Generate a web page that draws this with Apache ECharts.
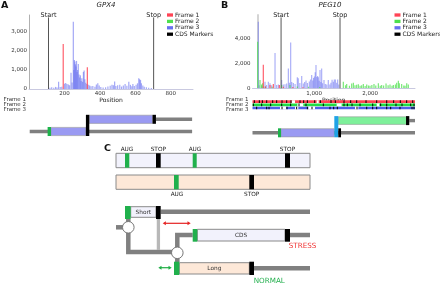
<!DOCTYPE html>
<html><head><meta charset="utf-8">
<script src="https://cdn.jsdelivr.net/npm/echarts@6/dist/echarts.min.js"></script>
<style>html,body{margin:0;padding:0;background:#fff}#c{width:440px;height:286px}</style>
</head><body><div id="c"></div>
<script>
// ---------- Panel A (GPX4) data ----------
const aFrame1 = [[193,2370],[329,1140]];
const aFrame2 = [];
const aFrame3 = [[118,60],[128,90],[140,70],[150,110],[158,80],[167,385],[176,100],[185,120],[200,280],[207,320],[214,260],[222,240],[229,200],[237,860],[243,340],[250,3540],[253,1000],[256,1530],[259,1450],[262,1300],[265,1180],[268,1480],[271,900],[274,1000],[278,1320],[282,760],[286,600],[290,720],[294,420],[298,560],[302,380],[307,900],[311,970],[315,520],[320,330],[326,260],[334,230],[342,180],[350,140],[360,160],[372,120],[380,240],[388,300],[396,180],[405,110],[418,80],[432,90],[445,130],[458,170],[468,230],[476,200],[483,390],[490,160],[500,200],[512,230],[522,130],[532,180],[542,260],[552,170],[563,380],[572,220],[580,140],[586,260],[594,160],[604,220],[612,300],[619,560],[624,520],[629,470],[634,300],[642,180],[650,120],[662,90],[675,70],[690,50]];
const aCds = [[110,'Start'],[703,'Stop']];
const aXTicks = [200,400,600,800];
const aXRange = [0,925];
const aYMax = 3900;
const aGene = [[4,920,'low','utr'],[716,920,'up','utr'],[124,321,'low','orf3'],[340,697,'up','orf3'],[105,124,'low','start'],[321,340,'both','stop'],[697,716,'up','stop']];

// ---------- Panel B (PEG10) data ----------
const bFrame1 = [[93,1900],[130,150],[212,270],[272,350],[379,270],[450,120],[620,100],[800,90]];
const bFrame2 = [[-8,3740],[34,670],[60,300],[81,400],[130,150],[250,120],[420,270],[569,270],[700,150],[900,120],[1100,100],[1521,520],[1560,250],[1581,350],[1630,200],[1670,380],[1700,450],[1729,250],[1759,280],[1789,330],[1820,200],[1848,250],[1878,350],[1910,180],[1938,300],[1970,220],[1997,200],[2030,260],[2068,350],[2100,220],[2146,400],[2180,200],[2205,260],[2240,220],[2283,380],[2320,250],[2354,300],[2390,200],[2414,260],[2450,300],[2473,450],[2503,610],[2520,400],[2562,350],[2600,220],[2622,200],[2652,400],[2681,300]];
const bFrame3 = [[4,5350],[20,250],[64,200],[95,150],[123,520],[150,260],[183,530],[212,400],[242,250],[302,2850],[330,260],[361,300],[420,660],[450,300],[480,320],[510,380],[540,1600],[560,450],[581,3690],[600,500],[629,420],[660,350],[700,880],[717,800],[745,420],[778,1000],[807,380],[830,500],[855,620],[880,420],[914,540],[935,700],[956,1070],[975,620],[990,820],[1004,940],[1020,1300],[1033,1870],[1048,900],[1062,1000],[1075,880],[1090,600],[1105,1470],[1120,500],[1134,1600],[1150,400],[1176,670],[1200,350],[1225,300],[1253,670],[1280,300],[1300,450],[1320,680],[1343,530],[1360,700],[1380,700],[1402,450],[1420,700],[1440,300]];
const bCds = [[410,'Start'],[1462,'Stop']];
const bXTicks = [1000,2000];
const bXRange = [-100,2800];
const bYMax = 5900;
const bGene = [[-100,2800,'low','utr'],[2698,2800,'up','utr'],[409,1360,'low','orf3'],[1431,2652,'up','orf2'],[355,409,'low','start'],[1360,1431,'both','shift'],[1431,1480,'low','stop'],[2640,2698,'up','stop']];
const bStops = [
  [-67,22,76,153,260,331,427,510,587,748,813,879,1010,1111,1301,1378,1533,1652,1759,1926,2116,2295,2419,2538,2651,2759],
  [-85,64,224,421,581,730,855,1164,1533,1592,1676,1819,2045,2187,2295,2461,2568,2723,2782],
  [-26,153,195,427,516,688,879,962,1283,1349,1414,1765,1938,2045,2116,2295,2366,2532,2747,2782]
];
const bGaps = [
  [[599,659],[1045,1081]],
  [[700,807],[1402,1491],[2116,2164]],
  [[391,498],[659,718],[897,1015],[1729,1789]]
];
const frameNames = ['Frame 1','Frame 2','Frame 3'];
const legendNames = ['Frame 1','Frame 2','Frame 3','CDS Markers'];

// ---------- Panel C schematic (diagram units) ----------
const cBars = [[16,13.3,210,27.7,'mrna1'],[25,13.3,29.3,27.7,'aug'],[56,13.3,60.7,27.7,'stop'],[92.7,13.3,96.7,27.7,'aug'],[185,13.3,190,27.7,'stop'],
  [16,35,210,49.3,'mrna2'],[74,35,78.7,49.3,'aug'],[149.3,35,154,49.3,'stop'],
  [30.7,66.7,56,77.3,'mrna1'],[25,66,30.7,79,'aug'],[56,66,60.7,79,'stop'],
  [97.3,89.3,185,101,'mrna1'],[92.7,89,97.3,101.7,'aug'],[185,89,190,101.7,'stop'],
  [79.3,122.7,149.3,134,'mrna2'],[74,121.7,79.3,135,'aug'],[149.3,121.7,154,135,'stop']];
const cPaths = [
  [[[60.7,71.7],[210,71.7]],'main'],
  [[[16,87.3],[28.3,87.3]],'main'],
  [[[28.3,79],[28.3,112],[77.3,112]],'main'],
  [[[77.3,112],[77.3,95],[92.7,95]],'main'],
  [[[77.3,112],[77.3,122]],'main'],
  [[[190,95],[210,95]],'main'],
  [[[154,128.3],[210,128.3]],'main'],
  [[[58.4,79],[58.4,110]],'light']];
const cCircles = [[28.3,87.3],[77.3,112.8]];
const cArrows = [[62.7,90.7,83.3,'stress'],[58.3,71.7,127.7,'normal']];
const cTexts = [[27,9,'AUG','small'],[58.3,9,'STOP','small'],[95,9,'AUG','small'],[187.5,9,'STOP','small'],
  [77,54,'AUG','small'],[151.7,54,'STOP','small'],[43.3,72,'Short','box'],[141,95.2,'CDS','box'],[114.3,128.4,'Long','box'],
  [202.5,106,'STRESS','stress'],[169.3,141.5,'NORMAL','normal']];

// ---------- rendering ----------
const FONT = 'DejaVu Sans';
const GREY = '#808080';
const C1 = '#ff4455', C2 = '#4ee04e', C3 = '#6870f0';

function barSeries(name, idx, data, color, op) {
  return {type:'custom', name, xAxisIndex:idx, yAxisIndex:idx, data, clip:true, itemStyle:{color},
    renderItem:(p, api) => {
      const x = api.value(0), v = api.value(1);
      const a = api.coord([x,0]), b = api.coord([x,v]);
      return {type:'rect', shape:{x:a[0]-0.6, y:b[1], width:1.2, height:a[1]-b[1]}, style:{fill:color, opacity:op}};
    }};
}
function cdsSeries(idx, data, ymax) {
  return {type:'custom', name:'CDS Markers', xAxisIndex:idx, yAxisIndex:idx, clip:false, itemStyle:{color:'#000'},
    data: data.map(d => [d[0], ymax]),
    renderItem:(p, api) => {
      const x = api.value(0);
      const a = api.coord([x,0]), b = api.coord([x, api.value(1)]);
      return {type:'group', children:[
        {type:'line', shape:{x1:a[0], y1:a[1], x2:b[0], y2:b[1]+2.4}, style:{stroke:'#555', lineWidth:1}},
        {type:'text', style:{x:b[0], y:b[1]+3.6, text:data[p.dataIndex][1], align:'center', verticalAlign:'bottom', fontSize:6.5, fontFamily:FONT, fill:'#222'}}
      ]};
    }};
}
function geneSeries(idx, data, lanes) {
  const sty = {utr:{fill:GREY, h:3.4}, orf3:{fill:'#9a9af2', h:8.2, stroke:'#999'}, orf2:{fill:'#7ef09a', h:7.6, stroke:'#999'},
    start:{fill:'#1cb34a', h:9}, stop:{fill:'#000', h:9}, shift:{fill:'#1fa3e6', h:9}};
  return {type:'custom', xAxisIndex:idx, yAxisIndex:idx, data: data.map(d => [d[0], d[1]]), clip:false,
    renderItem:(p, api) => {
      const d = data[p.dataIndex], s = sty[d[3]];
      let y1, y2;
      if (d[2] === 'both') { y1 = lanes.up - s.h/2; y2 = lanes.low + s.h/2; }
      else { y1 = lanes[d[2]] - s.h/2; y2 = lanes[d[2]] + s.h/2; }
      const a = api.coord([d[0], y1]), b = api.coord([d[1], y2]);
      return {type:'rect', shape:{x:a[0], y:a[1], width:b[0]-a[0], height:b[1]-a[1]},
        style:{fill:s.fill, stroke:s.stroke || null, lineWidth:s.stroke ? 0.6 : 0}};
    }};
}
function trackSeries(idx) {
  const cols = [C1, '#22dd44', '#5060e8'];
  const rows = [];
  for (let f = 0; f < 3; f++) {
    rows.push([bXRange[0], bXRange[1], f, 'base']);
    bGaps[f].forEach(g => rows.push([g[0], g[1], f, 'gap']));
    bStops[f].forEach(s => rows.push([s, s, f, 'stop']));
  }
  const laneC = [4.65, 7.85, 11.0], h = 2.7;
  return {type:'custom', xAxisIndex:idx, yAxisIndex:idx, data: rows.map(r => [r[0], r[1]]), clip:false,
    renderItem:(p, api) => {
      const r = rows[p.dataIndex];
      const a = api.coord([r[0], laneC[r[2]] - h/2]), b = api.coord([r[1], laneC[r[2]] + h/2]);
      if (r[3] === 'stop') return {type:'rect', shape:{x:a[0]-0.5, y:a[1], width:1, height:b[1]-a[1]}, style:{fill:'#000'}};
      return {type:'rect', shape:{x:a[0], y:a[1], width:b[0]-a[0], height:b[1]-a[1]}, style:{fill: r[3]==='gap' ? '#fff' : cols[r[2]]}};
    }};
}
// Panel C series
const cFill = {mrna1:'#f2f2fc', mrna2:'#fde8d8', aug:'#20b04c', stop:'#000'};
const cPathStyle = {main:{stroke:'#808080', lineWidth:4.5}, light:{stroke:'#b8b8b8', lineWidth:3.3}};
const cTextStyle = {small:{fontSize:5.8, fill:'#222'}, box:{fontSize:5.8, fill:'#333'}, stress:{fontSize:7.2, fill:'#f03434'}, normal:{fontSize:7.2, fill:'#26b050'}};
const cArrowCol = {stress:'#e52222', normal:'#1fae45'};
const C = 6;
const cSeries = [
  {type:'custom', xAxisIndex:C, yAxisIndex:C, clip:false, z:2, data: cPaths.map(p => p[0][0]),
    renderItem:(p, api) => {
      const path = cPaths[p.dataIndex];
      return {type:'polyline', shape:{points: path[0].map(pt => api.coord(pt))}, style:Object.assign({fill:null, lineJoin:'miter'}, cPathStyle[path[1]])};
    }},
  {type:'custom', xAxisIndex:C, yAxisIndex:C, clip:false, z:3, data: cBars.map(b => [b[0], b[1]]),
    renderItem:(p, api) => {
      const b = cBars[p.dataIndex];
      const a = api.coord([b[0], b[1]]), c = api.coord([b[2], b[3]]);
      const isBox = b[4].startsWith('mrna');
      return {type:'rect', shape:{x:a[0], y:a[1], width:c[0]-a[0], height:c[1]-a[1]},
        style:{fill:cFill[b[4]], stroke: isBox ? '#8a8a8a' : null, lineWidth: isBox ? 1 : 0}};
    }},
  {type:'custom', xAxisIndex:C, yAxisIndex:C, clip:false, z:4, data: cCircles,
    renderItem:(p, api) => {
      const c = cCircles[p.dataIndex];
      const a = api.coord(c), e = api.coord([c[0]+5.8, c[1]]);
      return {type:'circle', shape:{cx:a[0], cy:a[1], r:e[0]-a[0]}, style:{fill:'#fff', stroke:'#777', lineWidth:1}};
    }},
  {type:'custom', xAxisIndex:C, yAxisIndex:C, clip:false, z:4, data: cArrows.map(a => [a[0], a[2]]),
    renderItem:(p, api) => {
      const ar = cArrows[p.dataIndex], col = cArrowCol[ar[3]];
      const a = api.coord([ar[0], ar[2]]), b = api.coord([ar[1], ar[2]]);
      const hl = 3.2, hw = 2;
      return {type:'group', children:[
        {type:'line', shape:{x1:a[0]+hl-0.5, y1:a[1], x2:b[0]-hl+0.5, y2:b[1]}, style:{stroke:col, lineWidth:1.2}},
        {type:'polygon', shape:{points:[[a[0],a[1]],[a[0]+hl,a[1]-hw],[a[0]+hl,a[1]+hw]]}, style:{fill:col}},
        {type:'polygon', shape:{points:[[b[0],b[1]],[b[0]-hl,b[1]-hw],[b[0]-hl,b[1]+hw]]}, style:{fill:col}}
      ]};
    }},
  {type:'custom', xAxisIndex:C, yAxisIndex:C, clip:false, z:5, data: cTexts.map(t => [t[0], t[1]]),
    renderItem:(p, api) => {
      const t = cTexts[p.dataIndex];
      const a = api.coord([t[0], t[1]]);
      return {type:'text', style:Object.assign({x:a[0], y:a[1], text:t[2], align:'center', verticalAlign:'middle', fontFamily:FONT}, cTextStyle[t[3]])};
    }}
];

const hiddenVal = (gi, range) => Object.assign({type:'value', gridIndex:gi, show:false}, range ? {min:range[0], max:range[1]} : {});
const tickLabel = {fontSize:5.5, color:'#333', fontFamily:FONT, margin:2};

const chart = echarts.init(document.getElementById('c'), null, {renderer:'canvas'});
chart.setOption({
  animation:false,
  backgroundColor:'#fff',
  textStyle:{fontFamily:FONT},
  title:[
    {text:'A', left:1, top:1, padding:0, textStyle:{fontSize:9.5, fontWeight:'bold', color:'#111', fontFamily:FONT}},
    {text:'GPX4', left:106, top:2, padding:0, textAlign:'center', textStyle:{fontSize:7, fontStyle:'italic', fontWeight:'normal', color:'#222', fontFamily:FONT}},
    {text:'B', left:221, top:1, padding:0, textStyle:{fontSize:9.5, fontWeight:'bold', color:'#111', fontFamily:FONT}},
    {text:'PEG10', left:330, top:2, padding:0, textAlign:'center', textStyle:{fontSize:7, fontStyle:'italic', fontWeight:'normal', color:'#222', fontFamily:FONT}},
    {text:'C', left:104, top:144, padding:0, textStyle:{fontSize:9.5, fontWeight:'bold', color:'#111', fontFamily:FONT}}
  ],
  legend:[
    {data:legendNames, orient:'vertical', left:167, top:12, padding:0, itemGap:0.4, itemWidth:6, itemHeight:3.3, icon:'rect',
     selectedMode:false, textStyle:{fontSize:6, lineHeight:6, color:'#222', fontFamily:FONT, padding:[0,0,0,-3]}},
    {data:legendNames, orient:'vertical', left:394.5, top:12, padding:0, itemGap:0.4, itemWidth:6, itemHeight:3.3, icon:'rect',
     selectedMode:false, textStyle:{fontSize:6, lineHeight:6, color:'#222', fontFamily:FONT, padding:[0,0,0,-3]}}
  ],
  grid:[
    {left:29, top:15, width:164, height:74, outerBoundsMode:'none'},
    {left:252.5, top:15, width:162.5, height:73.3, outerBoundsMode:'none'},
    {left:29, top:97.6, width:164, height:14.4, outerBoundsMode:'none'},
    {left:252.5, top:97.6, width:162.5, height:14.4, outerBoundsMode:'none'},
    {left:29, top:97, width:164, height:43, outerBoundsMode:'none'},
    {left:252.5, top:97, width:162.5, height:43, outerBoundsMode:'none'},
    {left:100, top:140, width:240, height:146, outerBoundsMode:'none'}
  ],
  xAxis:[
    {type:'value', gridIndex:0, min:aXRange[0], max:aXRange[1], splitLine:{show:false}, axisTick:{show:false},
     axisLine:{show:true, lineStyle:{color:'#c9c9e0', width:1}},
     axisLabel:Object.assign({customValues:aXTicks}, tickLabel),
     name:'Position', nameLocation:'middle', nameGap:5, nameTextStyle:{fontSize:6, color:'#222', fontFamily:FONT, verticalAlign:'top'}},
    {type:'value', gridIndex:1, min:bXRange[0], max:bXRange[1], splitLine:{show:false}, axisTick:{show:false},
     axisLine:{show:true, lineStyle:{color:'#c9c9e0', width:1}},
     axisLabel:Object.assign({customValues:bXTicks}, tickLabel),
     name:'Position', nameLocation:'middle', nameGap:5, nameTextStyle:{fontSize:6, color:'#222', fontFamily:FONT, verticalAlign:'top'}},
    hiddenVal(2), hiddenVal(3),
    hiddenVal(4, aXRange), hiddenVal(5, bXRange), hiddenVal(6, [0,240])
  ],
  yAxis:[
    {type:'value', gridIndex:0, min:0, max:aYMax, interval:1000, splitLine:{show:false}, axisTick:{show:false},
     axisLine:{show:true, lineStyle:{color:'#b0b0b0', width:1}}, axisLabel:Object.assign({showMaxLabel:false}, tickLabel)},
    {type:'value', gridIndex:1, min:0, max:bYMax, interval:2000, splitLine:{show:false}, axisTick:{show:false},
     axisLine:{show:true, lineStyle:{color:'#d4d4d4', width:2}}, axisLabel:Object.assign({showMaxLabel:false}, tickLabel)},
    {type:'category', gridIndex:2, data:frameNames, inverse:true, axisLine:{show:false}, axisTick:{show:false},
     axisLabel:{interval:0, fontSize:5.5, color:'#333', margin:3, fontFamily:FONT}},
    {type:'category', gridIndex:3, data:frameNames, inverse:true, axisLine:{show:false}, axisTick:{show:false},
     axisLabel:{interval:0, fontSize:5.5, color:'#333', margin:4, fontFamily:FONT}},
    Object.assign(hiddenVal(4, [0,43]), {inverse:true}),
    Object.assign(hiddenVal(5, [0,43]), {inverse:true}),
    Object.assign(hiddenVal(6, [0,146]), {inverse:true})
  ],
  series:[
    barSeries('Frame 3', 0, aFrame3, C3, 0.6),
    barSeries('Frame 2', 0, aFrame2, C2, 0.8),
    barSeries('Frame 1', 0, aFrame1, C1, 0.85),
    cdsSeries(0, aCds, aYMax),
    barSeries('Frame 3', 1, bFrame3, C3, 0.55),
    barSeries('Frame 2', 1, bFrame2, C2, 0.75),
    barSeries('Frame 1', 1, bFrame1, C1, 0.85),
    cdsSeries(1, bCds, bYMax),
    geneSeries(4, aGene, {up:22.3, low:34.5}),
    trackSeries(5),
    geneSeries(5, bGene, {up:23.6, low:35.8})
  ].concat(cSeries)
});
</script></body></html>
